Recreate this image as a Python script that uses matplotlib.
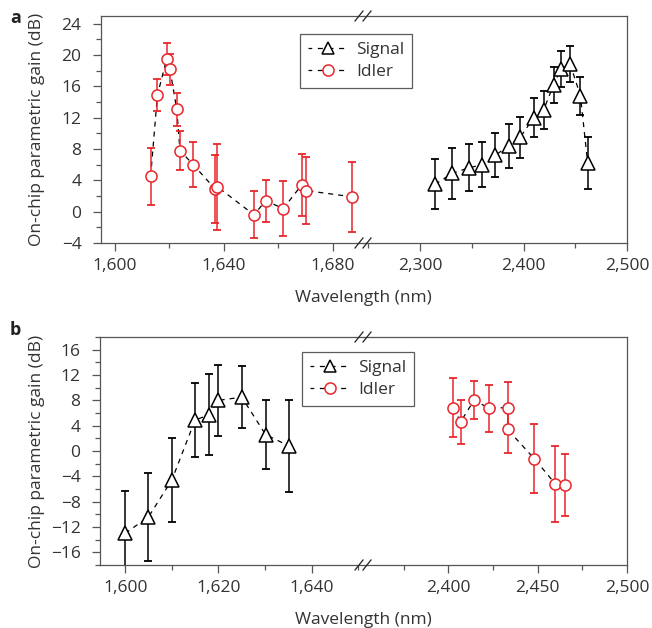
import numpy as np
import matplotlib
matplotlib.use('Agg')
import matplotlib.pyplot as plt
from matplotlib.lines import Line2D
from matplotlib.ticker import MultipleLocator, FuncFormatter

plt.rcParams['font.family'] = ['Open Sans', 'DejaVu Sans']
plt.rcParams['font.size'] = 12.5

RED = '#e8262b'
TXT = '#333333'
SPINE = '#555555'

# ---- panel a data ----
a_idler_x = [1613.1, 1615.6, 1619.0, 1620.2, 1622.7, 1623.9, 1628.8, 1636.8,
             1637.6, 1651.1, 1655.4, 1661.9, 1668.6, 1670.2, 1687.2]
a_idler_y = [4.5, 14.9, 19.5, 18.2, 13.1, 7.8, 6.0, 2.9, 3.2, -0.4, 1.4, 0.4, 3.4, 2.7, 1.9]
a_idler_err = [3.6, 2.1, 2.0, 2.0, 2.1, 2.5, 2.9, 4.4, 5.5, 3.0, 2.7, 3.5, 4.0, 4.3, 4.5]

a_signal_x = [2314.5, 2331, 2347, 2360, 2372.6, 2385.5, 2396.8, 2409.7, 2419.4,
              2429, 2436, 2445, 2455, 2462]
a_signal_y = [3.5, 4.9, 5.6, 6.0, 7.2, 8.4, 9.5, 12.0, 13.0, 16.2, 18.2, 18.9, 14.8, 6.2]
a_signal_err = [3.2, 3.3, 3.0, 2.9, 2.8, 2.8, 2.6, 2.5, 2.4, 2.3, 2.3, 2.3, 2.4, 3.3]

# ---- panel b data ----
b_signal_x = [1600, 1605, 1610, 1615, 1618, 1620, 1625, 1630.1, 1635.1]
b_signal_y = [-13.0, -10.4, -4.6, 4.9, 5.7, 8.0, 8.5, 2.6, 0.8]
b_signal_err = [6.7, 6.9, 6.6, 5.8, 6.4, 5.6, 4.9, 5.5, 7.3]

b_idler_x = [2402.8, 2406.9, 2414.4, 2423, 2433.2, 2433.2, 2448.1, 2459.9, 2465.3]
b_idler_y = [6.85, 4.6, 8.0, 6.75, 6.85, 3.4, -1.2, -5.2, -5.4]
b_idler_err = [4.65, 3.5, 3.0, 3.75, 4.1, 3.7, 5.4, 6.0, 4.85]

W, H = 652, 628
fig = plt.figure(figsize=(W / 100, H / 100), dpi=100)


def px_axes(x0, x1, y0, y1):
    return fig.add_axes([x0 / W, 1 - y1 / H, (x1 - x0) / W, (y1 - y0) / H])


def thousands(v, pos):
    return f'{int(round(v)):,}'


def style(ax, left):
    for s in ax.spines.values():
        s.set_color(SPINE)
        s.set_linewidth(0.9)
    ax.spines['right' if left else 'left'].set_visible(False)
    ax.tick_params(which='both', direction='out', colors=SPINE, labelcolor=TXT,
                   top=False, right=False, left=left, labelleft=left)
    ax.tick_params(which='major', length=6, width=0.9, pad=5)
    ax.tick_params(axis='y', which='major', pad=8)
    ax.tick_params(which='minor', length=3.5, width=0.9)
    ax.xaxis.set_major_formatter(FuncFormatter(thousands))


def draw(ax, x, y, err, color, marker, ms):
    ax.plot(x, y, ls=(0, (4, 4)), color='black', lw=0.9, zorder=2)
    ax.errorbar(x, y, yerr=err, fmt='none', ecolor=color, elinewidth=1.1,
                capsize=2.6, capthick=1.3, zorder=3)
    ax.plot(x, y, ls='none', marker=marker, ms=ms, mfc='white', mec=color,
            mew=1.1, zorder=4)


def breaks(x_px, y_top, y_bot):
    for yy in (y_top, y_bot):
        for dx in (-4, 4):
            xc = x_px + dx
            fig.add_artist(Line2D([(xc - 4) / W, (xc + 4) / W],
                                  [1 - (yy + 5) / H, 1 - (yy - 5) / H],
                                  color='#222222', lw=0.9))


def panel(yt, yb, xl, xr, ylim, yticks, lx_lim, rx_lim, lmaj, lmin, rmaj, rmin):
    axl = px_axes(xl, 363, yt, yb)
    axr = px_axes(363, xr, yt, yb)
    style(axl, True)
    style(axr, False)
    for ax in (axl, axr):
        ax.set_ylim(*ylim)
        ax.set_yticks(yticks)
        ax.yaxis.set_minor_locator(MultipleLocator(2))
    axr.tick_params(axis='y', which='both', left=False)
    axl.set_xlim(*lx_lim)
    axr.set_xlim(*rx_lim)
    axl.xaxis.set_major_locator(MultipleLocator(lmaj))
    axl.xaxis.set_minor_locator(MultipleLocator(lmin))
    axr.xaxis.set_major_locator(MultipleLocator(rmaj))
    axr.xaxis.set_minor_locator(MultipleLocator(rmin))
    axl.set_ylabel('On-chip parametric gain (dB)', color=TXT, va='center')
    axl.yaxis.set_label_coords(37 / W, 1 - (yt + yb) / 2 / H,
                               transform=fig.transFigure)
    fig.text(363 / W, 1 - (yb + 55) / H, 'Wavelength (nm)', ha='center',
             va='center', color=TXT)
    breaks(363, yt, yb)
    return axl, axr


def add_legend(x_px, y_px):
    handles = [
        Line2D([], [], color='black', ls=(1, (4, 4.5)), lw=0.9, marker='^',
               ms=9, mfc='white', mec='black', mew=1.1),
        Line2D([], [], color='black', ls=(1, (4, 4.5)), lw=0.9, marker='o',
               ms=8, mfc='white', mec=RED, mew=1.1),
    ]
    leg = fig.legend(handles, ['Signal', 'Idler'], loc='upper left',
                     bbox_to_anchor=(x_px / W, 1 - y_px / H), frameon=True,
                     fancybox=False, edgecolor='#333333', handlelength=2.3,
                     handletextpad=0.5, borderpad=0.45, labelspacing=0.35,
                     borderaxespad=0, labelcolor=TXT)
    leg.get_frame().set_linewidth(0.9)


# panel a
a_l, a_r = panel(16, 243, 101, 627, (-4, 25), np.arange(-4, 25, 4),
                 (1594.85, 1691.2), (2244.8, 2500), 40, 20, 100, 50)
draw(a_l, a_idler_x, a_idler_y, a_idler_err, RED, 'o', 8)
draw(a_r, a_signal_x, a_signal_y, a_signal_err, 'black', '^', 10)
add_legend(300, 34)

# panel b
b_l, b_r = panel(337, 565, 100, 627, (-18, 18), np.arange(-16, 17, 4),
                 (1594.6, 1651), (2352.3, 2500), 20, 10, 50, 25)
draw(b_l, b_signal_x, b_signal_y, b_signal_err, 'black', '^', 10)
draw(b_r, b_idler_x, b_idler_y, b_idler_err, RED, 'o', 8)
add_legend(302, 352)

fig.text(10 / W, 1 - 18 / H, 'a', fontweight='bold', fontsize=13,
         va='center', ha='left', color='#222222')
fig.text(10 / W, 1 - 330 / H, 'b', fontweight='bold', fontsize=13,
         va='center', ha='left', color='#222222')

fig.savefig('out.png', dpi=100)
